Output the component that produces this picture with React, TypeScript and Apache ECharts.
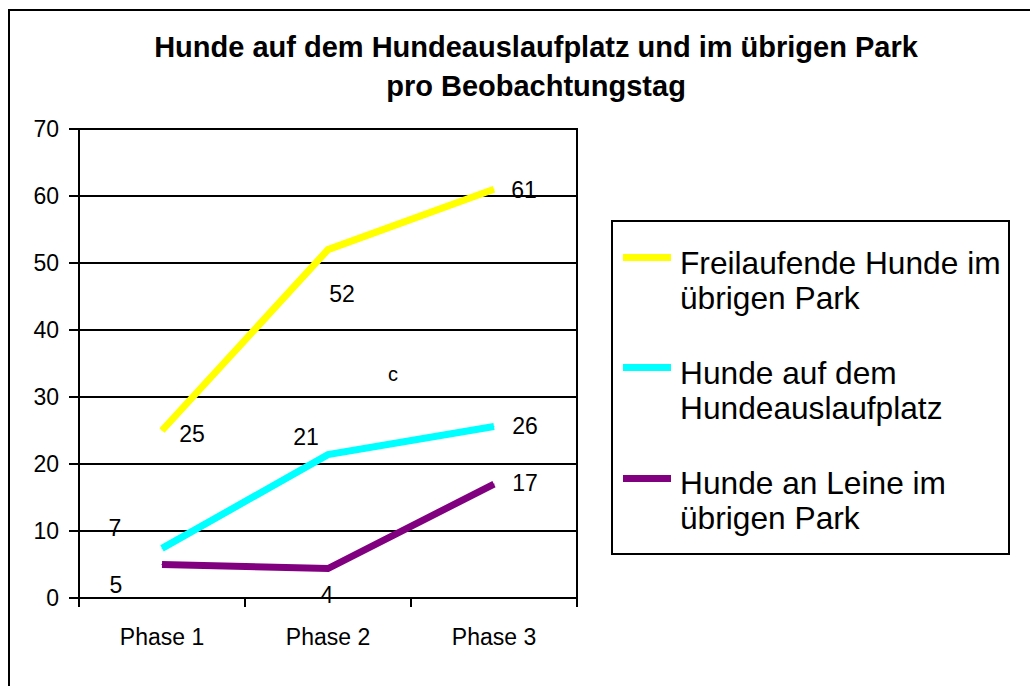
import React, { useEffect, useRef } from "react";
import * as echarts from "echarts";

const titleLines = [
  "Hunde auf dem Hundeauslaufplatz und im übrigen Park",
  "pro Beobachtungstag",
];
const categories = ["Phase 1", "Phase 2", "Phase 3"];
const seriesNames = [
  "Freilaufende Hunde im übrigen Park",
  "Hunde auf dem Hundeauslaufplatz",
  "Hunde an Leine im übrigen Park",
];
const legendTexts = [
  "Freilaufende Hunde im\nübrigen Park",
  "Hunde auf dem\nHundeauslaufplatz",
  "Hunde an Leine im\nübrigen Park",
];
const freilaufend = [25, 52, 61];
const auslaufplatz = [7.4, 21.4, 25.6];
const leine = [5, 4.4, 17];
const yMin = 0;
const yMax = 70;
const yInterval = 10;

const colors = ["#FFFF00", "#00FFFF", "#800080"];
const labelOffsets = [
  [[30, 3], [14, 44], [30, 1]],
  [[-47, -20], [-22, -18], [31, 0]],
  [[-46, 20], [-1, 26], [31, -1]],
];
const FONT = "'Liberation Sans', Arial, Helvetica, sans-serif";

export default function App() {
  const ref = useRef<HTMLDivElement>(null);
  useEffect(() => {
    if (!ref.current) return;
    const chart = echarts.init(ref.current, undefined, { renderer: "svg" });
    const allData = [freilaufend, auslaufplatz, leine];
    const series = allData.map((vals, si) => ({
      type: "line",
      name: seriesNames[si],
      data: vals.map((v, i) => ({
        value: v,
        label: { offset: labelOffsets[si][i] },
      })),
      symbol: "circle",
      symbolSize: 1,
      showSymbol: true,
      itemStyle: { color: colors[si] },
      lineStyle: { color: colors[si], width: 7, cap: "butt", join: "miter" },
      label: {
        show: true,
        position: "inside",
        color: "#000",
        fontFamily: FONT,
        fontSize: 23,
        align: "center",
        verticalAlign: "middle",
        formatter: (p: any) => String(Math.round(p.value)),
      },
      emphasis: { disabled: true },
      z: 3,
    }));

    const legendGraphics: any[] = [
      {
        type: "rect",
        shape: { x: 612, y: 221, width: 397, height: 333 },
        style: { fill: "#fff", stroke: "#000", lineWidth: 2 },
      },
    ];
    const swatchY = [254, 364, 475];
    const textY = [245, 355, 465];
    legendTexts.forEach((t, i) => {
      legendGraphics.push({
        type: "rect",
        shape: { x: 623, y: swatchY[i], width: 48, height: 7 },
        style: { fill: colors[i] },
      });
      legendGraphics.push({
        type: "text",
        x: 680,
        y: textY[i],
        style: {
          text: t,
          fontFamily: FONT,
          fontSize: 31.7,
          lineHeight: 35,
          fill: "#000",
          verticalAlign: "top",
          align: "left",
        },
      });
    });

    chart.setOption({
      animation: false,
      backgroundColor: "#fff",
      title: {
        text: titleLines.join("\n"),
        left: 531,
        top: 22,
        textAlign: "center",
        textStyle: {
          fontFamily: FONT,
          fontSize: 29,
          fontWeight: "bold",
          lineHeight: 39,
          color: "#000",
        },
      },
      grid: {
        left: 79,
        right: 453,
        top: 129,
        bottom: 88,
        show: true,
        borderColor: "#000",
        borderWidth: 2,
        backgroundColor: "transparent",
      },
      xAxis: {
        type: "category",
        data: categories,
        boundaryGap: true,
        axisLine: { show: true, lineStyle: { color: "#000", width: 2 } },
        axisTick: {
          show: true,
          length: 9,
          alignWithLabel: false,
          lineStyle: { color: "#000", width: 2 },
        },
        axisLabel: {
          fontFamily: FONT,
          fontSize: 23,
          color: "#000",
          margin: 27,
        },
        splitLine: { show: false },
      },
      yAxis: {
        type: "value",
        min: yMin,
        max: yMax,
        interval: yInterval,
        axisLine: { show: true, lineStyle: { color: "#000", width: 2 } },
        axisTick: { show: true, length: 10, lineStyle: { color: "#000", width: 2 } },
        axisLabel: {
          fontFamily: FONT,
          fontSize: 23,
          color: "#000",
          margin: 20,
        },
        splitLine: { show: true, lineStyle: { color: "#000", width: 2 } },
      },
      series,
      graphic: [
        {
          type: "rect",
          shape: { x: 9, y: 10, width: 1040, height: 700 },
          style: { fill: "none", stroke: "#000", lineWidth: 2 },
          silent: true,
        },
        ...legendGraphics,
        {
          type: "text",
          x: 393,
          y: 374,
          style: {
            text: "c",
            fontFamily: FONT,
            fontSize: 20,
            fill: "#000",
            align: "center",
            verticalAlign: "middle",
          },
        },
      ],
    });
    return () => chart.dispose();
  }, []);
  return (
    <div
      ref={ref}
      style={{
        position: "fixed",
        left: 0,
        top: 0,
        width: 1030,
        height: 686,
        background: "#fff",
      }}
    />
  );
}
